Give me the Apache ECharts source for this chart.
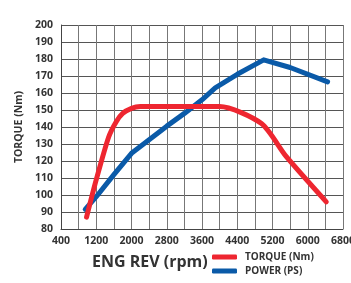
<!DOCTYPE html>
<html>
<head>
<meta charset="utf-8">
<script src="https://cdn.jsdelivr.net/npm/echarts@6/dist/echarts.min.js"></script>
<style>
  html, body { margin: 0; padding: 0; background: #fff; }
  #chart { width: 351px; height: 283px; }
</style>
</head>
<body>
<div id="chart"></div>
<script>
// engine rpm / value pairs
const torqueRpm = [980, 1200, 1480, 1650, 1800, 2000, 2200, 3000, 3800, 4000, 4950, 5500, 6420];
const torqueNm  = [87, 109, 134, 143, 148, 151, 152, 152, 152, 152, 142, 123, 96];
const powerRpm  = [950, 1200, 1600, 2000, 2400, 2800, 3200, 3600, 3900, 4400, 5000, 5600, 6450];
const powerPs   = [91.5, 99, 112, 124.5, 132.5, 140.5, 148, 156, 163, 171, 179.5, 175, 166.5];

const xTitle = 'ENG REV (rpm)';
const yTitle = 'TORQUE (Nm)';
const torqueName = 'TORQUE (Nm)';
const powerName = 'POWER (PS)';

const font = 'Open Sans';
const chart = echarts.init(document.getElementById('chart'));

const toPairs = (xs, ys) => xs.map((x, i) => [x, ys[i]]);

chart.setOption({
  animation: false,
  title: {
    text: xTitle,
    left: 87,
    top: 249,
    textStyle: { fontFamily: font, fontSize: 16, fontWeight: 'bold', color: '#333' }
  },
  legend: {
    orient: 'vertical',
    left: 207,
    top: 247,
    itemWidth: 25,
    itemHeight: 5,
    itemGap: 4,
    icon: 'roundRect',
    data: [torqueName, powerName],
    textStyle: { fontFamily: font, fontSize: 10, fontWeight: 'bold', color: '#333', padding: [0, 0, 0, 3] }
  },
  grid: { left: 61, right: 8, top: 25, bottom: 54, outerBoundsMode: 'none', containLabel: false },
  xAxis: {
    type: 'value',
    min: 400,
    max: 6800,
    interval: 400,
    axisLine: { lineStyle: { color: '#444', width: 1 } },
    axisTick: { show: false },
    splitLine: { show: true, lineStyle: { color: '#777', width: 1 } },
    axisLabel: {
      margin: 7,
      fontFamily: font,
      fontSize: 10.5,
      fontWeight: 'bold',
      color: '#333',
      formatter: v => ((v - 400) % 800 === 0 ? String(v) : '')
    }
  },
  yAxis: {
    type: 'value',
    min: 80,
    max: 200,
    interval: 10,
    name: yTitle,
    nameLocation: 'middle',
    nameGap: 34,
    nameTextStyle: { fontFamily: font, fontSize: 10.5, fontWeight: 'bold', color: '#333' },
    axisLine: { show: true, lineStyle: { color: '#444', width: 1 } },
    axisTick: { show: false },
    splitLine: { show: true, lineStyle: { color: '#555', width: 1 } },
    axisLabel: { margin: 8, fontFamily: font, fontSize: 10.5, fontWeight: 'bold', color: '#333' }
  },
  series: [
    {
      name: powerName,
      type: 'line',
      data: toPairs(powerRpm, powerPs),
      symbol: 'none',
      z: 3,
      lineStyle: { color: '#0a5aa8', width: 5, cap: 'round', join: 'round' },
      itemStyle: { color: '#0a5aa8' }
    },
    {
      name: torqueName,
      type: 'line',
      data: toPairs(torqueRpm, torqueNm),
      symbol: 'none',
      smooth: 0.25,
      z: 4,
      lineStyle: { color: '#ee2630', width: 5, cap: 'round', join: 'round' },
      itemStyle: { color: '#ee2630' }
    }
  ]
});
</script>
</body>
</html>
